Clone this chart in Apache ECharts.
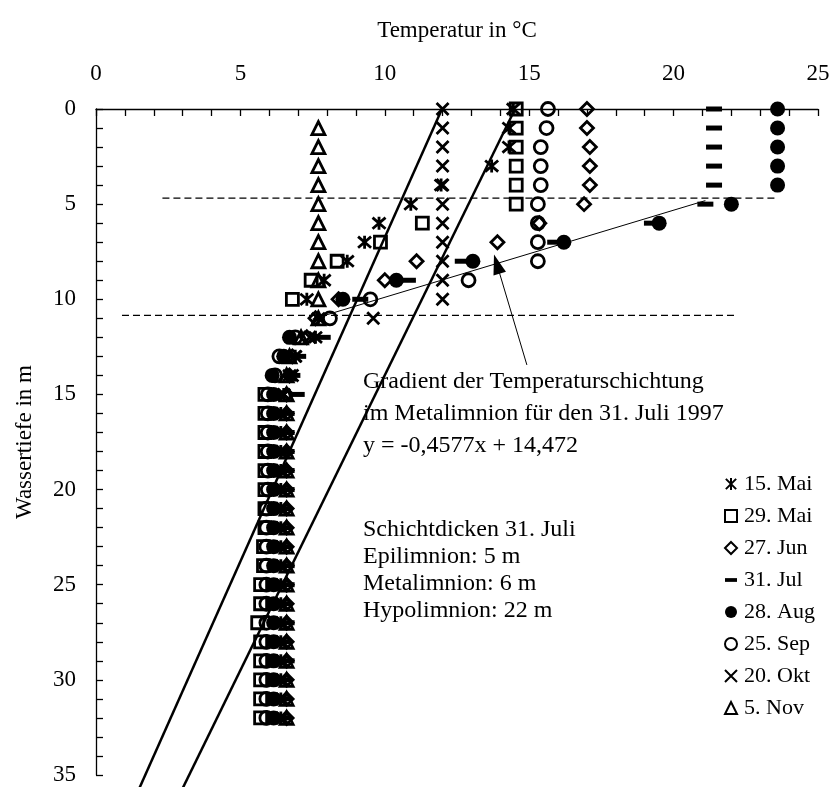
<!DOCTYPE html>
<html>
<head>
<meta charset="utf-8">
<script src="https://cdn.jsdelivr.net/npm/echarts@6/dist/echarts.min.js"></script>
<style>
  html, body { margin: 0; padding: 0; background: #fff; }
  #chart { width: 833px; height: 787px; }
</style>
</head>
<body>
<div id="chart"></div>
<script>
// Temperature profiles (°C) of the lake, one value per depth (m); null = no reading
const depths = [0,1,2,3,4,5,6,7,8,9,10,11,12,13,14,15,16,17,18,19,20,21,22,23,24,25,26,27,28,29,30,31,32];
const depthsNov = [1,2,3,4,5,6,7,8,9,10,11,12,13,14,15,16,17,18,19,20,21,22,23,24,25,26,27,28,29,30,31,32];

const tMai15 = [14.45,14.3,14.3,13.7,11.95,10.9,9.8,9.3,8.7,7.9,7.3,7.7,7.6,6.9,6.7,6.5,6.4,6.4,6.4,6.4,6.4,6.4,6.4,6.4,6.4,6.4,6.4,6.4,6.4,6.4,6.4,6.4,6.4];
const tMai29 = [14.55,14.55,14.55,14.55,14.55,14.55,11.3,9.85,8.35,7.45,6.8,null,null,null,null,5.85,5.85,5.85,5.85,5.85,5.85,5.85,5.85,5.8,5.8,5.7,5.7,5.6,5.7,5.7,5.7,5.7,5.7];
const tJun27 = [17.0,17.0,17.1,17.1,17.1,16.9,15.35,13.9,11.1,10.0,8.4,7.6,7.3,6.8,6.7,6.6,6.6,6.6,6.6,6.6,6.6,6.6,6.6,6.6,6.6,6.6,6.6,6.6,6.6,6.6,6.6,6.6,6.6];
const tJul31 = [21.4,21.4,21.4,21.4,21.4,21.1,19.25,15.9,12.7,10.8,9.15,null,7.85,7.0,6.8,6.95,6.6,6.6,6.6,6.6,6.6,6.5,6.5,6.5,6.6,6.6,6.5,6.6,6.5,6.6,6.5,6.5,6.5];
const tAug28 = [23.6,23.6,23.6,23.6,23.6,22.0,19.5,16.2,13.05,10.4,8.55,null,6.7,6.5,6.1,6.15,6.15,6.15,6.15,6.15,6.15,6.15,6.15,6.15,6.15,6.15,6.15,6.15,6.15,6.15,6.15,6.15,6.15];
const tSep25 = [15.65,15.6,15.4,15.4,15.4,15.3,15.3,15.3,15.3,12.9,9.5,8.1,6.9,6.35,6.2,5.95,5.95,5.95,5.95,5.95,5.95,5.9,5.9,5.9,5.9,5.9,5.9,5.9,5.9,5.9,5.9,5.9,5.9];
const tOkt20 = [12.0,12.0,12.0,12.0,12.0,12.0,12.0,12.0,12.0,12.0,12.0,9.6,7.4,6.9,6.8,6.5,6.45,6.45,6.45,6.45,6.45,6.45,6.45,6.45,6.45,6.45,6.45,6.45,6.45,6.45,6.45,6.45,6.45];
const tNov5 = [7.7,7.7,7.7,7.7,7.7,7.7,7.7,7.7,7.7,7.7,7.7,7.1,6.7,6.6,6.6,6.6,6.6,6.6,6.6,6.6,6.6,6.6,6.6,6.6,6.6,6.6,6.6,6.6,6.6,6.6,6.6,6.6];

const seriesNames = ['15. Mai','29. Mai','27. Jun','31. Jul','28. Aug','25. Sep','20. Okt','5. Nov'];

// Thermocline gradient for 31 July (depth = slope * temperature + intercept)
const gradSlope = -0.4577;
const gradIntercept = 14.472;
const gradTempRange = [7.5, 21.1];

// Layer boundaries (depth, temperature extent of the dashed line)
const boundaryUpper = { depth: 4.68, from: 2.3, to: 23.6 };
const boundaryLower = { depth: 10.85, from: 0.9, to: 22.1 };

// Two straight guide lines [temperature, depth]
const guideA = [[11.98, 0], [1.5, 35.7]];
const guideB = [[14.51, 0], [3.0, 35.7]];

// Arrow from the annotation to the gradient line [temperature, depth]
const arrowFrom = [14.92, 13.45];
const arrowTo = [13.88, 8.15];

const xTicks = { min: 0, max: 25, interval: 5 };
const yTicks = { min: 0, max: 35, interval: 5 };

const FONT = '"Liberation Serif", "Times New Roman", serif';

const pair = (temps, ds) => temps
  .map((t, i) => [t, ds[i]])
  .filter(p => p[0] !== null);

const hollow = { color: 'rgba(0,0,0,0)', borderColor: '#000', borderWidth: 2.8, opacity: 1 };
const solid = { color: '#000', borderWidth: 0, opacity: 1 };

const asteriskPath = 'path://M1,1L13,13M13,1L1,13M7,0L7,14';
const crossPath = 'path://M0,0L12,12M12,0L0,12';
const dashPath = 'path://M0,0H16V5H0Z';

function scatter(name, temps, ds, symbol, size, style) {
  return {
    type: 'scatter', name, data: pair(temps, ds),
    symbol, symbolSize: size, itemStyle: style,
    emphasis: { disabled: true }, animation: false, z: 3
  };
}

const lineStyleSeries = (data, width, type) => ({
  type: 'line', data, showSymbol: false, symbol: 'none', clip: false,
  lineStyle: { color: '#000', width, type }, silent: true, animation: false, z: 2
});

const series = [
  scatter(seriesNames[0], tMai15, depths, asteriskPath, 13, hollow),
  scatter(seriesNames[1], tMai29, depths, 'rect', 12, hollow),
  scatter(seriesNames[2], tJun27, depths, 'diamond', 13, hollow),
  scatter(seriesNames[3], tJul31, depths, dashPath, [16, 5], solid),
  scatter(seriesNames[4], tAug28, depths, 'circle', 15, solid),
  scatter(seriesNames[5], tSep25, depths, 'circle', 13, hollow),
  scatter(seriesNames[6], tOkt20, depths, crossPath, 12, hollow),
  scatter(seriesNames[7], tNov5, depthsNov, 'triangle', 13, hollow),
  lineStyleSeries(guideA, 2.5, 'solid'),
  lineStyleSeries(guideB, 2.5, 'solid'),
  lineStyleSeries(gradTempRange.map(t => [t, gradSlope * t + gradIntercept]), 1, 'solid'),
  lineStyleSeries([[boundaryUpper.from, boundaryUpper.depth], [boundaryUpper.to, boundaryUpper.depth]], 1.2, [7, 4]),
  lineStyleSeries([[boundaryLower.from, boundaryLower.depth], [boundaryLower.to, boundaryLower.depth]], 1.2, [7, 4]),
  {
    type: 'line', data: [], silent: true, animation: false,
    markLine: {
      silent: true, animation: false,
      symbol: ['none', 'triangle'], symbolSize: [13, 20],
      lineStyle: { color: '#000', width: 1, type: 'solid' },
      label: { show: false },
      data: [[{ coord: arrowFrom }, { coord: arrowTo }]]
    }
  }
];

const textBlock = [
  { text: 'Gradient der Temperaturschichtung', y: 383 },
  { text: 'im Metalimnion für den 31. Juli 1997', y: 415 },
  { text: 'y = -0,4577x + 14,472', y: 447 },
  { text: 'Schichtdicken 31. Juli', y: 531 },
  { text: 'Epilimnion: 5 m', y: 558 },
  { text: 'Metalimnion: 6 m', y: 585 },
  { text: 'Hypolimnion: 22 m', y: 612 }
];

const chart = echarts.init(document.getElementById('chart'), null, { renderer: 'canvas' });
chart.setOption({
  backgroundColor: '#fff',
  animation: false,
  textStyle: { fontFamily: FONT, color: '#000' },
  grid: { left: 96, right: 15, top: 109, bottom: 12, containLabel: false },
  xAxis: {
    type: 'value', position: 'top', min: xTicks.min, max: xTicks.max, interval: xTicks.interval,
    name: 'Temperatur in °C', nameLocation: 'middle', nameGap: 67,
    nameTextStyle: { fontFamily: FONT, fontSize: 23, color: '#000' },
    axisLine: { show: true, lineStyle: { color: '#000', width: 1.3 } },
    axisTick: { show: true, inside: true, length: 7, lineStyle: { color: '#000', width: 1.3 } },
    minorTick: { show: true, splitNumber: 5, length: 7, lineStyle: { color: '#000', width: 1.3 } },
    axisLabel: { fontFamily: FONT, fontSize: 23, color: '#000', margin: 24 },
    splitLine: { show: false }
  },
  yAxis: {
    type: 'value', inverse: true, min: yTicks.min, max: yTicks.max, interval: yTicks.interval,
    name: 'Wassertiefe in m', nameLocation: 'middle', nameGap: 60, nameRotate: 90,
    nameTextStyle: { fontFamily: FONT, fontSize: 23, color: '#000' },
    axisLine: { show: true, lineStyle: { color: '#000', width: 1.3 } },
    axisTick: { show: true, inside: true, length: 7, lineStyle: { color: '#000', width: 1.3 } },
    minorTick: { show: true, splitNumber: 5, length: 7, lineStyle: { color: '#000', width: 1.3 } },
    axisLabel: { fontFamily: FONT, fontSize: 23, color: '#000', margin: 20 },
    splitLine: { show: false }
  },
  legend: {
    data: seriesNames, orient: 'vertical', left: 719, top: 468,
    itemWidth: 12, itemHeight: 12, itemGap: 10,
    textStyle: { fontFamily: FONT, fontSize: 22, color: '#000', padding: [0, 0, 0, 2] },
    selectedMode: false
  },
  graphic: textBlock.map(t => ({
    type: 'text', left: 363, top: t.y - 13, silent: true,
    style: { text: t.text, font: '24px ' + FONT, fill: '#000' }
  })),
  series
});
</script>
</body>
</html>
